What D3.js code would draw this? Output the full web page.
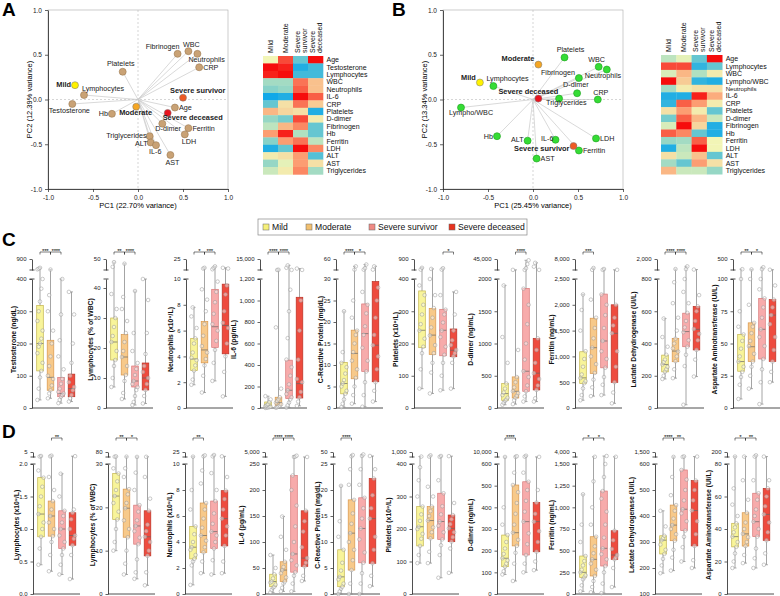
<!DOCTYPE html>
<html>
<head>
<meta charset="utf-8">
<script src="https://cdn.jsdelivr.net/npm/d3@7"></script>
<style>
  body { margin: 0; background: #fff; }
  svg { font-family: "Liberation Sans", Arial, Helvetica, sans-serif; }
</style>
</head>
<body>
<svg id="fig" width="780" height="596"></svg>
<script>
// ---------- data ----------
const groups = ["Mild", "Moderate", "Severe survivor", "Severe deceased"];

// panel A biplot (loadings + group scores)
const varsA = ["Fibrinogen","WBC","Neutrophils","CRP","Platelets","Lymphocytes","Testosterone","Hb","Age","D-dimer","Ferritin","LDH","Triglycerides","ALT","IL-6","AST"];
const pc1A = [0.44, 0.56, 0.66, 0.68, -0.17, -0.60, -0.73, -0.29, 0.41, 0.27, 0.56, 0.52, 0.13, 0.14, 0.20, 0.36];
const pc2A = [0.51, 0.54, 0.51, 0.36, 0.31, 0.05, -0.05, -0.16, -0.09, -0.27, -0.32, -0.39, -0.41, -0.48, -0.51, -0.62];
const grpPc1A = [-0.70, -0.02, 0.50, 0.33];
const grpPc2A = [0.16, -0.08, 0.02, -0.15];

// panel B biplot
const varsB = ["Platelets","WBC","Neutrophils","Fibrinogen","D-dimer","CRP","Triglycerides","Lymphocytes","Lympho/WBC","Hb","ALT","IL-6","LDH","Ferritin","AST"];
const pc1B = [0.35, 0.73, 0.82, 0.51, 0.49, 0.72, 0.29, -0.44, -0.80, -0.40, -0.06, 0.25, 0.70, 0.51, 0.04];
const pc2B = [0.47, 0.365, 0.335, 0.24, 0.07, 0.0, 0.01, 0.15, -0.09, -0.41, -0.46, -0.45, -0.435, -0.57, -0.66];
const grpPc1B = [-0.59, 0.06, 0.45, 0.06];
const grpPc2B = [0.19, 0.39, -0.52, 0.01];

// heatmaps (z-scores, columns = groups)
const rowsA = ["Age","Testosterone","Lymphocytes","WBC","Neutrophils","IL-6","CRP","Platelets","D-dimer","Fibrinogen","Hb","Ferritin","LDH","ALT","AST","Triglycerides"];
const heatA = [
  [0.0, 1.2, -1.0, 1.5], [1.5, 1.4, -1.4, -1.2], [1.4, 1.5, -1.2, -1.2], [-0.6, -0.6, 1.0, 0.5],
  [-0.8, -0.7, 1.1, 0.5], [-1.5, -1.4, 1.5, 1.1], [-1.0, 0.2, 1.0, 0.4], [0.6, 0.3, 0.2, -1.4],
  [-0.7, -0.9, 1.2, 0.1], [-0.4, 0.6, 0.9, -1.0], [0.8, 1.4, -0.5, -1.0], [-0.8, 0.8, 1.0, -0.4],
  [-1.4, -1.0, 1.5, 0.9], [0.1, 0.2, 0.8, -1.1], [-0.7, -0.1, 0.8, 0.2], [-0.3, 0.1, 0.9, -0.6]
];
const rowsB = ["Age","Lymphocytes","WBC","Lympho/WBC","Neutrophils","IL-6","CRP","Platelets","D-dimer","Fibrinogen","Hb","Ferritin","LDH","ALT","AST","Triglycerides"];
const heatB = [
  [-0.4, -0.1, -1.0, 1.5], [1.2, 1.2, -1.3, -1.0], [-0.2, 0.6, -0.5, 0.1], [1.5, 0.4, -1.3, -1.4],
  [-0.6, 0.1, 0.2, 0.2], [-1.4, -1.4, 1.4, 0.7], [-1.3, 1.1, 0.8, 0.1], [0.2, 0.8, 0.1, -1.0],
  [-0.9, 1.1, 0.6, -0.3], [-0.2, 1.5, 0.3, -1.4], [1.1, 0.9, -1.0, -1.4], [-0.7, -0.6, 1.1, 0.0],
  [-1.4, -0.4, 1.5, 0.0], [0.2, -0.3, 0.5, -1.0], [-0.6, -1.0, 0.8, 0.2], [0.6, -0.3, -0.3, -0.7]
];

// panel C box plots
const titlesC = ["Testosterone (ng/dL)","Lymphocytes (% of WBC)","Neutrophils (x10⁹/L)","IL-6 (pg/mL)","C-Reactive Protein (mg/dL)","Platelets (x10⁹/L)","D-dimer (ng/mL)","Ferritin (ng/mL)","Lactate Dehydrogenase (UI/L)","Aspartate Aminotransferase (UI/L)"];
const ticksC = [[0,100,200,300,400],[0,10,20,30,40],[0,2,4,6,8,10],[0,200,400,600,800,1000,1200],[0,5,10,15,20,25,30],[0,100,200,300,400],[0,500,1000,1500,2000],[0,500,1000,1500,2000,2500],[0,200,400,600,800],[0,25,50,75,100]];
const fmtC = [",", ",", ",", ",", ",", ",", "d", ",", ",", ","];
const minC = [0,0,0,0,0,0,0,0,0,0];
const maxC = [400, 43, 10, 1200, 30, 400, 2000, 2500, 800, 100];
const upperC = [900, 50, 25, 15000, 60, 900, 45000, 8000, 2000, 500];
const boxesC = [
  [[115,200,318],[55,95,210],[35,45,95],[35,60,105]],
  [[16,22,30],[11,17,24.5],[7,9,14],[6,10,15]],
  [[2.9,3.8,5.4],[3.5,4.5,6.7],[4.7,6.3,9.2],[4.2,6.4,9.6]],
  [[9,25,56],[25,50,100],[87,165,445],[93,227,1030]],
  [[3.3,5.7,10.6],[6.8,12.7,18.1],[8.5,17.3,24.2],[6.1,14.6,29.4]],
  [[187,241,363],[166,226,309],[162,241,306],[159,179,245]],
  [[119,223,378],[155,259,482],[259,570,1855],[280,540,1080]],
  [[474,584,1090],[669,1169,1740],[779,1299,2208],[494,1448,2000]],
  [[224,270,328],[287,353,432],[380,474,588],[360,488,630]],
  [[28.5,36,57],[36,47.5,66],[38,61,85],[36,72,84]]
];
const dotsC = [
  [[25,60,95,115,140,170,190,200,215,240,270,300,330,370,400,430,460,500],[30,45,55,70,90,100,130,160,200,240,300,350,420],[15,25,35,40,45,50,60,75,90,120,160,210,290,400],[20,30,40,55,65,80,100,140,200,290,360]],
  [[7,10,14,16,19,22,24,27,30,33,38,45,48],[3,5,9,11,14,17,19,22,25,29,33,37,47],[1,2,4,6,7,8,9,11,13,15,19,25,39],[1.5,4,6,8,10,12,14,18,25,36,43]],
  [[1.8,2.2,2.9,3.3,3.7,3.9,4.3,5.0,5.4,6.2,7.1,7.8],[1.2,2.5,3.3,3.8,4.3,4.8,5.6,6.5,7.5,8.4,9.2,12,13],[2.1,3.5,4.5,5.2,6.0,6.5,7.3,8.2,9.0,9.8,11,13,15],[0.9,2.8,4.0,5.0,6.2,6.6,7.5,8.8,9.5,12,13]],
  [[1,3,5,8,12,18,25,35,55,80,110],[2,8,15,22,35,50,65,80,100,180,750,1250,1500],[4,25,50,80,100,130,165,220,300,380,450,650,900,1100,1300,4000,7000],[20,60,100,150,240,270,450,720,1000,1300,3000]],
  [[0.2,1,2,3.3,4,5,5.7,6.5,8,9.5,10.5,13,22.5],[1,3,5,7,9,11,13,15,17,18,21,25,31,40],[0.3,3,6,8.5,11,14,17,19,22,24,27,31,35,45],[1.5,4,6,9,12,14.6,17,21,25,28,31,40]],
  [[60,120,170,190,215,240,260,290,320,350,380,420,500],[45,110,140,170,195,225,250,280,310,350,400,450],[55,100,140,165,190,220,240,265,290,305,350,420,480],[60,140,160,170,180,195,210,240,290,360]],
  [[50,80,110,130,160,200,240,300,380,700,1100,1900],[60,120,160,190,230,260,320,400,480,900,2500],[100,180,260,350,480,570,750,1000,1300,1600,1850,2500,9000,25000,40000],[100,150,280,350,450,540,700,900,1080,2500,15000,30000]],
  [[150,250,380,480,520,580,650,800,950,1100,1500,1900,2200],[230,400,550,680,850,1000,1170,1350,1550,1750,2100,2600,3500],[250,450,600,780,950,1100,1300,1550,1800,2000,2200,2600,3000],[90,300,500,800,1100,1450,1600,1750,2000,2600]],
  [[180,200,225,240,255,270,285,300,330,380,440,555],[185,240,290,320,350,370,400,430,480,560,650,780,900],[20,260,330,380,420,470,500,540,590,650,720,800,900,1200],[195,300,360,420,460,490,540,600,630,700,850]],
  [[7,18,24,28,32,36,40,46,52,57,63,75,100,130],[15,25,32,36,42,48,52,58,63,66,80,100,120],[3,20,30,38,48,55,61,70,78,85,92,100,130,200],[20,28,36,45,55,65,72,78,84,95,110]]
];
const sigC = [
  [[0,1,"***"],[1,2,"****"]], [[0,1,"**"],[1,2,"****"]], [[0,1,"*"],[1,2,"***"]],
  [[0,1,"****"],[1,2,"****"]], [[0,1,"****"],[1,2,"*"]], [[2,3,"*"]], [[1,2,"****"]],
  [[0,1,"***"]], [[0,1,"****"],[1,2,"****"]], [[0,1,"**"],[1,2,"*"]]
];

// panel D box plots
const titlesD = ["Lymphocytes (x10⁹/L)","Lymphocytes (% of WBC)","Neutrophils (x10⁹/L)","IL-6 (pg/mL)","C-Reactive Protein (mg/dL)","Platelets (x10⁹/L)","D-dimer (ng/mL)","Ferritin (ng/mL)","Lactate Dehydrogenase (UI/L)","Aspartate Aminotransferase (UI/L)"];
const ticksD = [[0,0.5,1,1.5,2],[0,10,20,30],[0,2,4,6,8,10],[0,50,100,150,200,250],[0,5,10,15,20,25],[0,100,200,300,400],[0,100,200,300,400,500,600],[0,250,500,750,1000,1250,1500],[100,200,300,400,500,600],[0,20,40,60,80]];
const fmtD = [".1f", ",", ",", ",", ",", ",", ",", ",", ",", ","];
const minD = [0,0,0,0,0,0,0,0,100,0];
const maxD = [2, 30, 10, 250, 25, 400, 600, 1500, 600, 80];
const upperD = [5, 80, 25, 5000, 50, 1000, 10000, 4000, 1500, 200];
const boxesD = [
  [[0.88,1.23,1.79],[0.89,1.2,1.43],[0.7,1.0,1.28],[0.75,0.9,1.25]],
  [[17.2,22.6,27.8],[13.1,19.8,24.2],[11.5,15.7,20.5],[8.8,13.2,19.2]],
  [[2.7,3.6,5.2],[3.2,4.5,7.0],[3.5,4.8,7.15],[3.7,5.8,7.95]],
  [[14,24,38],[24,46,62],[42,77,228],[53,69,160]],
  [[1.4,3.3,8.5],[4.6,11.7,18.1],[6.0,12.6,18.5],[5.9,14.5,22.2]],
  [[148,207,269],[171,226,269],[168,223,310],[161,202,243]],
  [[126,165,272],[222,283,503],[180,334,518],[195,334,422]],
  [[192,250,438],[208,400,661],[323,527,1188],[400,450,730]],
  [[254,307,324],[305,365,442],[344,426,577],[285,421,536]],
  [[29,35.3,43.5],[29.5,37,50],[35.3,44.5,62],[33,49,65]]
];
const dotsD = [
  [[0.45,0.7,0.88,1.0,1.1,1.23,1.35,1.5,1.65,1.79,1.9,2.3,2.6],[0.35,0.6,0.8,0.89,1.0,1.1,1.2,1.3,1.43,1.6,1.8,2.4,2.8],[0.3,0.45,0.6,0.7,0.8,0.9,1.0,1.1,1.2,1.28,1.5,1.85],[0.23,0.6,0.75,0.85,0.9,1.0,1.15,1.25,1.3,2.5]],
  [[10,12,15,17.2,19,21,22.6,24,26,27.8,29,33,36],[4.5,7,10,13.1,15,17,19.8,21,23,24.2,27,29,33],[3.5,5,8,11.5,13,14.5,15.7,17,19,20.5,24,28,31],[2,5,8.8,10,12,13.2,14.5,16,19.2,22,27,32]],
  [[0.7,2.2,2.5,2.7,3.0,3.4,3.6,4.0,4.6,5.2,6.5,8.0,11],[1.6,2.5,3.2,3.6,4.1,4.5,5.1,5.8,6.5,7.0,8.5,9.5,12,15],[1.5,2.6,3.5,4.0,4.5,4.8,5.4,6.2,7.15,8.0,9.3,12,16],[1.6,2.5,3.7,4.5,5.2,5.8,6.5,7.3,7.95,9.0,12]],
  [[3,8,12,14,18,22,24,30,38,50,75],[5,12,20,24,32,40,46,52,62,85,110,149],[5,20,35,42,55,65,77,100,130,170,200,228,270,600,1500],[25,35,53,60,69,90,120,140,160,280]],
  [[0,0.5,1,1.4,2,2.8,3.3,4.5,6,8.5,11,14,20.8],[0,2,4.6,6.5,8.5,10,11.7,13.5,15.5,18.1,21,24,28,35],[0,2,4,6,8,10.5,12.6,14.5,16.5,18.5,21,24,30,38],[1.5,3.5,5.9,8.5,11,14.5,16.5,19,22.2,24,30]],
  [[95,120,148,170,185,200,207,225,245,269,300,350,390,450],[95,130,171,190,205,226,240,255,269,300,330,450,600],[50,120,150,168,190,210,223,245,270,310,350,420,520],[65,140,161,175,190,202,215,230,243,280,500]],
  [[90,105,126,140,155,165,185,210,240,272,320,400,700],[60,140,190,222,250,283,320,370,420,470,503,560,900,2000],[100,140,180,230,280,334,380,430,480,518,560,1200,3000],[110,150,195,240,290,334,370,422,480,800]],
  [[30,100,170,192,215,250,280,330,380,438,600,800,1150],[20,80,150,208,280,350,400,470,550,661,800,1000,1300,1600],[10,120,250,323,400,460,527,650,800,950,1100,1188,1350,1500,2000],[80,300,400,420,450,520,620,730,1600]],
  [[180,210,235,254,270,290,307,315,324,360,420],[190,240,270,305,330,350,365,390,420,442,480,550,620],[225,280,320,344,380,410,426,460,500,540,577,620,700],[200,230,285,330,380,421,460,500,536,680]],
  [[16,20,25,29,32,35.3,38,41,43.5,48,55,65,90],[19,24,29.5,32,35,37,40,44,50,58,70,90],[16,22,28,35.3,40,44.5,48,52,58,62,70,90,120],[18,25,33,38,44,49,54,60,65,70,90]]
];
const sigD = [
  [[1,2,"**"]], [[0,1,"**"],[1,2,"*"]], [[0,1,"**"]], [[0,1,"****"],[1,2,"****"]],
  [[0,1,"****"]], [], [[0,1,"****"]], [[0,1,"*"],[1,2,"*"]], [[0,1,"****"],[1,2,"**"]], [[0,1,"*"],[1,2,"**"]]
];

// ---------- styles ----------
const grpPoint = ["#fff200", "#f5a623", "#ee5a24", "#e8141e"];
const boxFill = ["#f8f49a", "#f7c98a", "#f7abab", "#ee4b3e"];
const boxStroke = ["#c4b44c", "#d9964a", "#d97777", "#bb3226"];
const legendFill = ["#f6f07a", "#f2c070", "#f08a84", "#e8321e"];

const svg = d3.select("#fig");

// panel letters
[["A", 2, 16], ["B", 392, 16], ["C", 2, 246], ["D", 2, 438]].forEach(([t, x, y]) => {
  svg.append("text").attr("x", x).attr("y", y).attr("font-size", 19)
    .attr("font-weight", "bold").text(t);
});

function styleAxis(g, fs) {
  g.attr("font-family", null).attr("font-size", fs);
  g.select(".domain").attr("stroke", "#222").attr("stroke-width", 0.8);
  g.selectAll(".tick line").attr("stroke", "#222").attr("stroke-width", 0.7);
  g.selectAll(".tick text").attr("fill", "#222");
}

// ---------- biplots ----------
function biplot(o) {
  const x = d3.scaleLinear().domain([-1, 1]).range([o.x0, o.x1]);
  const y = d3.scaleLinear().domain([-1, 1]).range([o.y1, o.y0]);
  const g = svg.append("g");

  g.append("rect").attr("x", o.x0).attr("y", o.y0)
    .attr("width", o.x1 - o.x0).attr("height", o.y1 - o.y0)
    .attr("fill", "none").attr("stroke", "#aaa").attr("stroke-width", 0.6);
  g.append("line").attr("x1", x(0)).attr("x2", x(0)).attr("y1", o.y0).attr("y2", o.y1)
    .attr("stroke", "#bbb").attr("stroke-width", 0.6).attr("stroke-dasharray", "2,2");
  g.append("line").attr("x1", o.x0).attr("x2", o.x1).attr("y1", y(0)).attr("y2", y(0))
    .attr("stroke", "#bbb").attr("stroke-width", 0.6).attr("stroke-dasharray", "2,2");

  const tv = [-1, -0.5, 0, 0.5, 1];
  g.append("g").attr("transform", `translate(0,${o.y1})`)
    .call(d3.axisBottom(x).tickValues(tv).tickFormat(d => d.toFixed(1)).tickSize(3).tickSizeOuter(0))
    .call(a => styleAxis(a, 6.5));
  g.append("g").attr("transform", `translate(${o.x0},0)`)
    .call(d3.axisLeft(y).tickValues(tv).tickFormat(d => d.toFixed(1)).tickSize(3).tickSizeOuter(0))
    .call(a => styleAxis(a, 6.5));

  g.append("text").attr("x", (o.x0 + o.x1) / 2).attr("y", o.y1 + 19)
    .attr("text-anchor", "middle").attr("font-size", 7.5).text(o.xTitle);
  g.append("text").attr("transform", `translate(${o.x0 - 16},${(o.y0 + o.y1) / 2}) rotate(-90)`)
    .attr("text-anchor", "middle").attr("font-size", 7.5).text(o.yTitle);

  const x0 = x(0), y0 = y(0);
  g.selectAll(".vec").data(o.vars).join("line")
    .attr("x1", x0).attr("y1", y0)
    .attr("x2", (d, i) => x(o.p1[i])).attr("y2", (d, i) => y(o.p2[i]))
    .attr("stroke", "#c9c9c9").attr("stroke-width", 0.7);
  g.selectAll(".vpt").data(o.vars).join("circle")
    .attr("cx", (d, i) => x(o.p1[i])).attr("cy", (d, i) => y(o.p2[i])).attr("r", 3.5)
    .attr("fill", o.ptFill).attr("stroke", o.ptStroke).attr("stroke-width", 0.6);
  g.selectAll(".vlab").data(o.vars).join("text")
    .attr("x", (d, i) => x(o.p1[i]) + o.lab[i][1]).attr("y", (d, i) => y(o.p2[i]) + o.lab[i][2])
    .attr("text-anchor", (d, i) => o.lab[i][0]).attr("font-size", 7.2).attr("fill", "#222")
    .text(d => d);

  g.selectAll(".gpt").data(groups).join("circle")
    .attr("cx", (d, i) => x(o.g1[i])).attr("cy", (d, i) => y(o.g2[i])).attr("r", 3.5)
    .attr("fill", (d, i) => grpPoint[i]).attr("stroke", "#777").attr("stroke-width", 0.5);
  g.selectAll(".glab").data(groups).join("text")
    .attr("x", (d, i) => x(o.g1[i]) + o.glab[i][1]).attr("y", (d, i) => y(o.g2[i]) + o.glab[i][2])
    .attr("text-anchor", (d, i) => o.glab[i][0]).attr("font-size", 7.4).attr("font-weight", "bold")
    .attr("fill", "#222").text(d => d);
}

biplot({
  x0: 48, x1: 228, y0: 10, y1: 189,
  xTitle: "PC1 (22.70% variance)", yTitle: "PC2 (12.39% variance)",
  vars: varsA, p1: pc1A, p2: pc2A, g1: grpPc1A, g2: grpPc2A,
  ptFill: "#c9a275", ptStroke: "#9c7a52",
  lab: [["end",2,-5],["middle",3,-4],["start",-9,8],["start",4,3],["middle",-2,-6],["start",-2,-4],
        ["middle",-3,9],["end",-4,2.5],["start",4,2.5],["start",-7,7.5],["start",4,2.5],["start",-3,9.5],
        ["end",-3,2],["end",-3,3.5],["start",-7,8.5],["start",-5,10.5]],
  glab: [["end",-4,2],["start",-17,8],["start",-13,-5],["start",-5,7.5]]
});

biplot({
  x0: 443, x1: 623, y0: 10, y1: 189,
  xTitle: "PC1 (25.45% variance)", yTitle: "PC2 (13.34% variance)",
  vars: varsB, p1: pc1B, p2: pc2B, g1: grpPc1B, g2: grpPc2B,
  ptFill: "#35dc35", ptStroke: "#1f9f1f",
  lab: [["middle",6,-5],["middle",-2,-5],["start",-22,8],["end",-4,-3],["start",-14,-6],["middle",3,-5],
        ["start",-13,6.5],["start",-7,-5],["start",-12,7.5],["end",-4,2.5],["end",-4,1.5],["end",-2,1.5],
        ["start",4,2.5],["start",4,2.5],["start",4,2.5]],
  glab: [["end",-4,-2],["end",-4,-4],["end",-4,5],["middle",-10,-5]]
});

// ---------- heatmaps ----------
const heatColor = d3.scaleLinear()
  .domain([-1.5, -0.75, 0, 0.75, 1.5])
  .range(["#10a8e8", "#8fd5c6", "#f2f5b6", "#fca779", "#f60c0c"])
  .clamp(true);
const colLabels = [["Mild"], ["Moderate"], ["Severe", "survivor"], ["Severe", "deceased"]];

function heatmap(o) {
  const g = svg.append("g");
  const x = d3.scaleBand().domain(d3.range(4)).range([o.x0, o.x0 + 4 * o.cw]);
  const y = d3.scaleBand().domain(d3.range(o.rows.length)).range([o.y0, o.y0 + o.rows.length * o.ch]);
  o.vals.forEach((row, r) => {
    g.selectAll(null).data(row).join("rect")
      .attr("x", (d, c) => x(c)).attr("y", y(r))
      .attr("width", x.bandwidth() + 0.3).attr("height", y.bandwidth() + 0.3)
      .attr("fill", d => heatColor(d));
  });
  g.selectAll(".rl").data(o.rows).join("text")
    .attr("x", o.x0 + 4 * o.cw + 3.5).attr("y", (d, i) => y(i) + y.bandwidth() / 2 + 2.5)
    .attr("font-size", d => d === "Neutrophils" && o.smallNeut ? 6.1 : 7).attr("fill", "#111").text(d => d);
  colLabels.forEach((lines, c) => {
    lines.forEach((t, k) => {
      const cx = x(c) + o.cw / 2 + (lines.length === 1 ? 2.5 : (k === 0 ? -1 : 6));
      g.append("text").attr("transform", `translate(${cx},${o.y0 - 3}) rotate(-90)`)
        .attr("font-size", 7).attr("fill", "#111").text(t);
    });
  });
}
heatmap({ x0: 263, y0: 56, cw: 15, ch: 7.4, rows: rowsA, vals: heatA });
heatmap({ x0: 661, y0: 55, cw: 15.3, ch: 7.45, rows: rowsB, vals: heatB, smallNeut: true });

// ---------- legend ----------
const lg = svg.append("g");
lg.append("rect").attr("x", 258).attr("y", 219).attr("width", 269).attr("height", 16)
  .attr("fill", "#fff").attr("stroke", "#888").attr("stroke-width", 0.7);
const legX = [263, 306, 369, 449];
groups.forEach((gname, i) => {
  lg.append("rect").attr("x", legX[i]).attr("y", 224).attr("width", 6).attr("height", 6)
    .attr("fill", legendFill[i]).attr("stroke", "#666").attr("stroke-width", 0.5);
  lg.append("text").attr("x", legX[i] + 9).attr("y", 230).attr("font-size", 8.6)
    .attr("fill", "#111").text(gname);
});

// ---------- box plot rows ----------
const boxOff = [8, 18.5, 29, 39.5];
const boxW = 6.6;

function boxRow(r) {
  r.axes.forEach((ax, p) => {
    const g = svg.append("g");
    const gm = r.geom;
    const main = d3.scaleLinear().domain([r.mins[p], r.maxs[p]]).range([gm.mainBot, gm.mainTop]);
    const up = d3.scaleLinear().domain([r.maxs[p], r.uppers[p]]).range([gm.upBot, gm.upTop]);
    const y = v => v <= r.maxs[p] ? main(v) : up(v);

    // axes
    const ya = g.append("g").attr("transform", `translate(${ax},0)`)
      .call(d3.axisLeft(main).tickValues(r.ticks[p]).tickFormat(d3.format(r.fmts[p])).tickSize(2.5).tickSizeOuter(0))
      .call(a => styleAxis(a, 6));
    const ua = g.append("g").attr("transform", `translate(${ax},0)`)
      .call(d3.axisLeft(up).tickValues([r.uppers[p]]).tickFormat(d3.format(",")).tickSize(2.5).tickSizeOuter(0))
      .call(a => styleAxis(a, 6));
    [gm.upBot, gm.mainTop].forEach(yy => {
      g.append("line").attr("x1", ax - 2.5).attr("x2", ax + 2.5).attr("y1", yy).attr("y2", yy)
        .attr("stroke", "#222").attr("stroke-width", 0.8);
    });
    g.append("line").attr("x1", ax).attr("x2", ax + 47).attr("y1", gm.mainBot).attr("y2", gm.mainBot)
      .attr("stroke", "#222").attr("stroke-width", 0.8);

    // axis title
    const tw = d3.max(ya.selectAll("text").nodes().concat(ua.selectAll("text").nodes()), n => n.getComputedTextLength());
    g.append("text")
      .attr("transform", `translate(${ax - tw - 6},${(gm.mainTop + gm.mainBot) / 2 - 4}) rotate(-90)`)
      .attr("text-anchor", "middle").attr("font-size", 6.8).attr("font-weight", "bold")
      .attr("fill", "#111").text(r.titles[p]);

    // boxes
    r.boxes[p].forEach((b, i) => {
      const cx = ax + boxOff[i];
      const ext = d3.extent(r.dots[p][i]);
      g.append("line").attr("x1", cx).attr("x2", cx).attr("y1", y(ext[0])).attr("y2", y(ext[1]))
        .attr("stroke", "#8d8d8d").attr("stroke-width", 0.8);
      ext.forEach(v => g.append("line").attr("x1", cx - 1.5).attr("x2", cx + 1.5)
        .attr("y1", y(v)).attr("y2", y(v)).attr("stroke", "#8d8d8d").attr("stroke-width", 0.7));
      g.append("rect").attr("x", cx - boxW / 2).attr("y", y(b[2]))
        .attr("width", boxW).attr("height", y(b[0]) - y(b[2]))
        .attr("fill", boxFill[i]).attr("stroke", boxStroke[i]).attr("stroke-width", 0.7);
      g.append("line").attr("x1", cx - boxW / 2).attr("x2", cx + boxW / 2)
        .attr("y1", y(b[1])).attr("y2", y(b[1])).attr("stroke", "#666").attr("stroke-width", 0.7);
      g.selectAll(null).data(r.dots[p][i]).join("circle")
        .attr("cx", (d, k) => cx + ((k % 5) - 2) * 1.3)
        .attr("cy", d => y(d)).attr("r", 1.8)
        .attr("fill", "rgba(255,255,255,0.45)").attr("stroke", "#9e9e9e").attr("stroke-width", 0.55);
    });

    // significance brackets
    r.sigs[p].forEach(([a, b, lab]) => {
      const xa = ax + boxOff[a], xb = ax + boxOff[b];
      g.append("path").attr("d", `M${xa},${gm.sigY + 2.5}V${gm.sigY}H${xb}V${gm.sigY + 2.5}`)
        .attr("fill", "none").attr("stroke", "#222").attr("stroke-width", 0.6);
      g.append("text").attr("x", (xa + xb) / 2).attr("y", gm.sigY + 0.8)
        .attr("text-anchor", "middle").attr("font-size", 6.2)
        .attr("letter-spacing", -0.3).text(lab);
    });
  });
}

boxRow({
  axes: [32, 106, 186, 260, 336, 414, 497, 575, 657, 733],
  geom: { upTop: 259, upBot: 270, mainTop: 279, mainBot: 408, sigY: 252 },
  titles: titlesC, ticks: ticksC, fmts: fmtC, mins: minC, maxs: maxC, uppers: upperC,
  boxes: boxesC, dots: dotsC, sigs: sigC
});
boxRow({
  axes: [33, 108, 185, 265, 333, 412, 497, 575, 655, 727],
  geom: { upTop: 452, upBot: 457, mainTop: 464, mainBot: 594, sigY: 438 },
  titles: titlesD, ticks: ticksD, fmts: fmtD, mins: minD, maxs: maxD, uppers: upperD,
  boxes: boxesD, dots: dotsD, sigs: sigD
});
</script>
</body>
</html>
